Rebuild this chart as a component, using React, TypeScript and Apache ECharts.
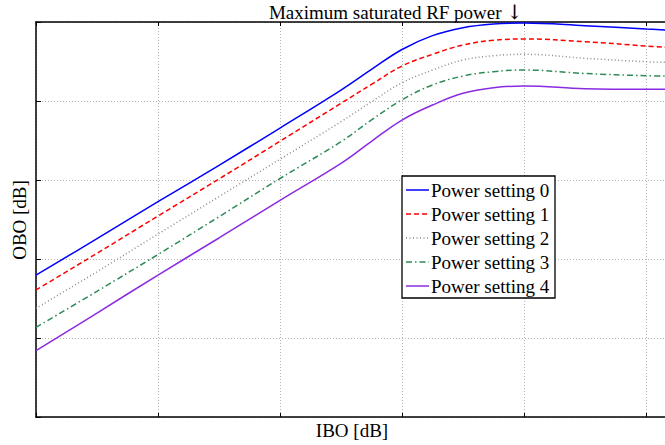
import React, { useEffect, useRef } from "react";
import * as echarts from "echarts";

const xValues = [0, 0.5, 1, 1.5, 2, 2.5, 2.75, 3, 3.25, 3.5, 3.75, 4, 4.5, 5, 5.16];
const seriesNames = ["Power setting 0", "Power setting 1", "Power setting 2", "Power setting 3", "Power setting 4"];
const setting0 = [1.797, 2.257, 2.725, 3.186, 3.658, 4.139, 4.40, 4.652, 4.827, 4.928, 4.975, 4.987, 4.953, 4.911, 4.899];
const setting1 = [1.608, 2.072, 2.544, 3.013, 3.491, 3.971, 4.21, 4.443, 4.591, 4.709, 4.768, 4.785, 4.751, 4.696, 4.68];
const setting2 = [1.376, 1.839, 2.316, 2.789, 3.263, 3.738, 3.99, 4.23, 4.392, 4.519, 4.573, 4.591, 4.541, 4.497, 4.49];
const setting3 = [1.135, 1.591, 2.057, 2.535, 3.019, 3.485, 3.76, 4.015, 4.203, 4.316, 4.371, 4.392, 4.348, 4.32, 4.316];
const setting4 = [0.839, 1.316, 1.797, 2.266, 2.743, 3.211, 3.49, 3.759, 3.949, 4.097, 4.168, 4.19, 4.156, 4.148, 4.148];
const allSeries = [setting0, setting1, setting2, setting3, setting4];

const titleMain = "Maximum saturated RF power ";
const titleArrow = "\u2193";
const xLabel = "IBO [dB]";
const yLabel = "OBO [dB]";

const colors = ["#0000ff", "#ff0000", "#8c8c8c", "#2e8b57", "#8a2be2"];
const dashes: any[] = ["solid", [5, 3], [1, 2.5], [6, 3, 1.5, 3], "solid"];
const FONT = "'Liberation Serif', 'Times New Roman', serif";

export default function App() {
  const ref = useRef<HTMLDivElement>(null);
  useEffect(() => {
    if (!ref.current) return;
    const chart = echarts.init(ref.current, null, { renderer: "svg" });
    const gridLeft = 36;
    const gridTop = 22;
    const unitX = 122;
    const xMax = (665 - gridLeft) / unitX;
    const legendX = 402;
    const legendY = 176;
    const legendItems: any[] = [];
    legendItems.push({
      type: "rect",
      shape: { x: legendX, y: legendY, width: 153, height: 122 },
      style: { fill: "#fff", stroke: "#000", lineWidth: 1.3 },
      z: 100,
    });
    seriesNames.forEach((name, i) => {
      const y = legendY + 14 + 24 * i;
      legendItems.push({
        type: "line",
        shape: { x1: legendX + 4, y1: y, x2: legendX + 27, y2: y },
        style: {
          stroke: colors[i],
          lineWidth: 1.5,
          lineDash: dashes[i] === "solid" ? null : dashes[i],
        },
        z: 101,
      });
      legendItems.push({
        type: "text",
        x: legendX + 29,
        y: y,
        style: {
          text: name,
          font: `19px ${FONT}`,
          fill: "#000",
          verticalAlign: "middle",
          align: "left",
        },
        z: 101,
      });
    });

    chart.setOption({
      animation: false,
      backgroundColor: "#fff",
      grid: { left: gridLeft, top: gridTop, right: 0, height: 395, containLabel: false },
      xAxis: [
        {
          type: "value",
          min: 0,
          max: xMax,
          interval: 1,
          axisLine: { show: true, lineStyle: { color: "#000", width: 1.5 } },
          axisTick: { show: true, inside: true, length: 4, lineStyle: { color: "#000" } },
          axisLabel: { show: false },
          splitLine: { show: true, lineStyle: { color: "#b4b4b4", type: [1, 2], width: 1 } },
        },
        {
          type: "value",
          position: "top",
          min: 0,
          max: xMax,
          interval: 1,
          axisLine: { show: true, onZero: false, lineStyle: { color: "#000", width: 1.5 } },
          axisTick: { show: true, inside: true, length: 4, lineStyle: { color: "#000" } },
          axisLabel: { show: false },
          splitLine: { show: false },
        },
      ],
      yAxis: {
        type: "value",
        min: 0,
        max: 5,
        interval: 1,
        axisLine: { show: true, lineStyle: { color: "#000", width: 1.5 } },
        axisTick: { show: true, inside: true, length: 5, lineStyle: { color: "#000" } },
        axisLabel: { show: false },
        splitLine: { show: true, lineStyle: { color: "#b4b4b4", type: [1, 2], width: 1 } },
      },
      series: allSeries.map((vals, i) => ({
        name: seriesNames[i],
        type: "line",
        xAxisIndex: 0,
        data: xValues.map((x, j) => [x, vals[j]]),
        smooth: 0.4,
        symbol: "none",
        lineStyle: { color: colors[i], width: 1.5, type: dashes[i] },
        z: 10 - i,
      })),
      graphic: [
        {
          type: "text",
          x: 396,
          y: 12,
          style: {
            text: `{m|${titleMain}}{a|${titleArrow}}`,
            rich: {
              m: { font: `19px ${FONT}`, fill: "#000" },
              a: { font: `20px 'DejaVu Serif', serif`, fill: "#000" },
            },
            align: "center",
            verticalAlign: "middle",
          },
        },
        {
          type: "text",
          x: 352,
          y: 430,
          style: { text: xLabel, font: `19px ${FONT}`, fill: "#000", align: "center", verticalAlign: "middle" },
        },
        {
          type: "text",
          x: 19,
          y: 220,
          rotation: Math.PI / 2,
          style: { text: yLabel, font: `19px ${FONT}`, fill: "#000", align: "center", verticalAlign: "middle" },
        },
        ...legendItems,
      ],
    });
    return () => chart.dispose();
  }, []);
  return (
    <div
      ref={ref}
      style={{ position: "absolute", left: 0, top: 0, width: 665, height: 445, background: "#fff" }}
    />
  );
}
